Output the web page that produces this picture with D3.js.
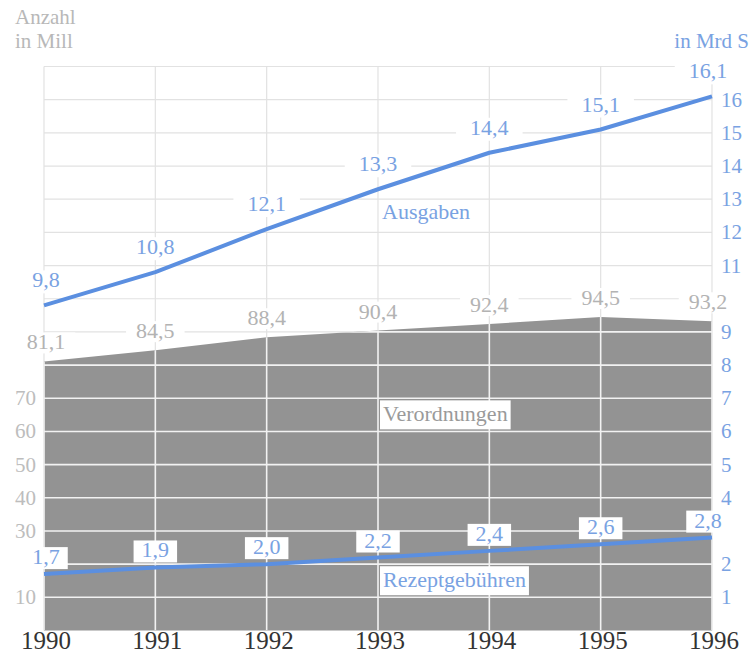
<!DOCTYPE html>
<html>
<head>
<meta charset="utf-8">
<script src="https://cdn.jsdelivr.net/npm/d3@7"></script>
<style>
  html, body { margin: 0; padding: 0; background: #fff; }
  svg { display: block; }
</style>
</head>
<body>
<svg id="chart" width="754" height="654"></svg>
<script>
// Arzneimittel: Verordnungen (Mill), Ausgaben und Rezeptgebühren (Mrd S), 1990–1996
const years = [1990, 1991, 1992, 1993, 1994, 1995, 1996];
const ausgaben = [9.8, 10.8, 12.1, 13.3, 14.4, 15.1, 16.1];          // in Mrd S
const verordnungen = [81.1, 84.5, 88.4, 90.4, 92.4, 94.5, 93.2];      // Anzahl in Mill
const rezeptgebuehren = [1.7, 1.9, 2.0, 2.2, 2.4, 2.6, 2.8];          // in Mrd S
const leftTicks = [10, 30, 40, 50, 60, 70];
const rightTicks = [1, 2, 4, 5, 6, 7, 8, 9, 11, 12, 13, 14, 15, 16];

const BLUE = "#5b8fe0";
const BLUE_TEXT = "#79a2e2";
const GRAY_AREA = "#939393";
const GRID = "#e2e2e2";
const GRAY_TEXT = "#b3b3b3";
const FONT = "Liberation Serif";

const svg = d3.select("#chart");
const plotLeft = 44, plotRight = 712, plotTop = 66.5, plotBottom = 630.5;

const x = d3.scalePoint().domain(years).range([plotLeft, plotRight]);
const yR = d3.scaleLinear().domain([0, 17]).range([plotBottom, plotTop]);   // Mrd S
const yL = d3.scaleLinear().domain([0, 170]).range([plotBottom, plotTop]);  // Mill

const fmt = v => d3.format(".1f")(v).replace(".", ",");
const gridLevels = d3.range(1, 18);

// layers, back to front
const gGrid = svg.append("g");
const gBackBoxes = svg.append("g");
const gArea = svg.append("g");
const gWhiteGrid = svg.append("g");
const gFrontBoxes = svg.append("g");
const gLines = svg.append("g");
const gText = svg.append("g");

function label(parent) {
  return parent.append("text").style("font-family", FONT);
}

// light grid over the whole plot
gGrid.selectAll("line.h").data(gridLevels).join("line")
  .attr("x1", plotLeft).attr("x2", plotRight)
  .attr("y1", d => yR(d)).attr("y2", d => yR(d))
  .attr("stroke", GRID).attr("stroke-width", 1.2);
gGrid.selectAll("line.v").data(years).join("line")
  .attr("x1", d => x(d)).attr("x2", d => x(d))
  .attr("y1", plotTop).attr("y2", plotBottom)
  .attr("stroke", GRID).attr("stroke-width", 1.2);

// Verordnungen area
const area = d3.area()
  .x((d, i) => x(years[i]))
  .y0(plotBottom)
  .y1(d => yL(d));
gArea.append("path").datum(verordnungen)
  .attr("d", area).attr("fill", GRAY_AREA);

// white grid inside the area
svg.append("clipPath").attr("id", "areaClip")
  .append("path").datum(verordnungen).attr("d", area);
gWhiteGrid.attr("clip-path", "url(#areaClip)");
gWhiteGrid.selectAll("line.h").data(gridLevels).join("line")
  .attr("x1", plotLeft).attr("x2", plotRight)
  .attr("y1", d => yR(d)).attr("y2", d => yR(d))
  .attr("stroke", "#f2f2f2").attr("stroke-width", 1.6);
gWhiteGrid.selectAll("line.v").data(years).join("line")
  .attr("x1", d => x(d)).attr("x2", d => x(d))
  .attr("y1", plotTop).attr("y2", plotBottom)
  .attr("stroke", "#f2f2f2").attr("stroke-width", 1.6);

// lines
const lineR = d3.line().x((d, i) => x(years[i])).y(d => yR(d));
[ausgaben, rezeptgebuehren].forEach(series => {
  gLines.append("path").datum(series)
    .attr("d", lineR).attr("fill", "none")
    .attr("stroke", BLUE).attr("stroke-width", 4).attr("stroke-linejoin", "round");
});

// axes
leftTicks.forEach(v => {
  label(gText).attr("x", 36).attr("y", yL(v) + 7)
    .attr("text-anchor", "end").attr("font-size", 21)
    .attr("fill", "#bdbdbd").text(v);
});
rightTicks.forEach(v => {
  label(gText).attr("x", 721).attr("y", yR(v) + 7)
    .attr("text-anchor", "start").attr("font-size", 21)
    .attr("fill", BLUE_TEXT).text(v);
});
years.forEach(v => {
  label(gText).attr("x", x(v) + 2).attr("y", 649)
    .attr("text-anchor", "middle").attr("font-size", 25)
    .attr("fill", "#333").text(v);
});

// unit captions
label(gText).attr("x", 15).attr("y", 24).attr("font-size", 21)
  .attr("fill", "#b8b8b8").text("Anzahl");
label(gText).attr("x", 15).attr("y", 48).attr("font-size", 21)
  .attr("fill", "#b8b8b8").text("in Mill");
label(gText).attr("x", 749).attr("y", 48).attr("font-size", 21)
  .attr("text-anchor", "end").attr("fill", BLUE_TEXT).text("in Mrd S");

// value labels; white backing cuts the grid behind them
function valueLabels(values, yScale, dy, color, padX, boxH, boxLayer) {
  const cx = d => Math.min(Math.max(d, 46), 708);
  values.forEach((v, i) => {
    const t = label(gText)
      .attr("x", cx(x(years[i])))
      .attr("y", yScale(v) + dy)
      .attr("text-anchor", "middle").attr("font-size", 22)
      .attr("fill", color).text(fmt(v));
    const b = t.node().getBBox();
    boxLayer.append("rect")
      .attr("x", b.x - padX).attr("width", b.width + 2 * padX)
      .attr("y", yScale(v) + dy - 17).attr("height", boxH)
      .attr("fill", "#fff");
  });
}
valueLabels(ausgaben, yR, -18, BLUE_TEXT, 14, 23, gBackBoxes);
valueLabels(verordnungen, yL, -12, GRAY_TEXT, 10, 21, gBackBoxes);
valueLabels(rezeptgebuehren, yR, -10, BLUE_TEXT, 8, 22, gFrontBoxes);

// series names
label(gText).attr("x", x(1993) + 4).attr("y", yR(12.6) + 7)
  .attr("font-size", 22).attr("fill", BLUE_TEXT).text("Ausgaben");

function boxedName(txt, value, color) {
  const t = label(gText).attr("x", x(1993) + 5).attr("y", yR(value) + 6)
    .attr("font-size", 22).attr("fill", color).text(txt);
  const b = t.node().getBBox();
  gFrontBoxes.append("rect")
    .attr("x", b.x - 3).attr("width", b.width + 6)
    .attr("y", yR(value) - 14.5).attr("height", 29)
    .attr("fill", "#fff");
}
boxedName("Verordnungen", 6.5, "#9a9a9a");
boxedName("Rezeptgebühren", 1.5, BLUE_TEXT);
</script>
</body>
</html>
